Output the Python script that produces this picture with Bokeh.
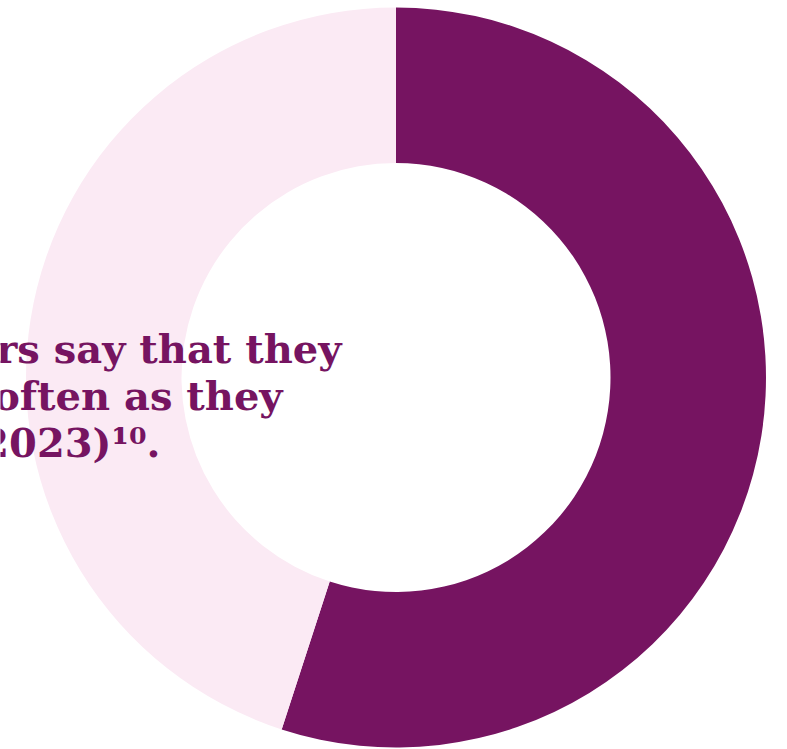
import math
from bokeh.plotting import figure
from bokeh.models import Range1d, ColumnDataSource
from bokeh.core.properties import value
from bokeh.embed import file_html
from bokeh.resources import INLINE

# Data
categories = ["Yes", "No"]
shares = [55, 45]
colors = ["#761461", "#FBEAF4"]
text_lines = ["rs say that they", " often as they", "2023)\u00b9\u2070."]

W, H = 787, 749
p = figure(width=W, height=H, output_backend="svg", toolbar_location=None,
           x_range=Range1d(0, W), y_range=Range1d(0, H), min_border=0)
p.axis.visible = False
p.grid.visible = False
p.outline_line_color = None
p.background_fill_color = "white"
p.border_fill_color = "white"

total = sum(shares)
starts, ends = [], []
acc = 0.0
for s in shares:
    a0 = math.pi / 2 - 2 * math.pi * acc / total
    acc += s
    a1 = math.pi / 2 - 2 * math.pi * acc / total
    starts.append(a0)
    ends.append(a1)

cx, cy = 395.5, H - 377
src = ColumnDataSource(dict(cat=categories, start=starts, end=ends, color=colors,
                            x=[cx] * len(shares), y=[cy] * len(shares)))
p.annular_wedge(x="x", y="y", inner_radius=214.5, outer_radius=370,
                start_angle="start", end_angle="end", direction="clock",
                fill_color="color", line_color=None, source=src)

right_edges = [341, 296, 160]
baselines = [348, 395, 442]
p.text(x=right_edges, y=[H - b for b in baselines], text=text_lines,
       text_align="right", text_baseline="alphabetic",
       text_font=value("DejaVu Serif"), text_font_style="bold",
       text_font_size="40px", text_color="#761461")

open("out.html", "w").write(file_html(p, INLINE))
